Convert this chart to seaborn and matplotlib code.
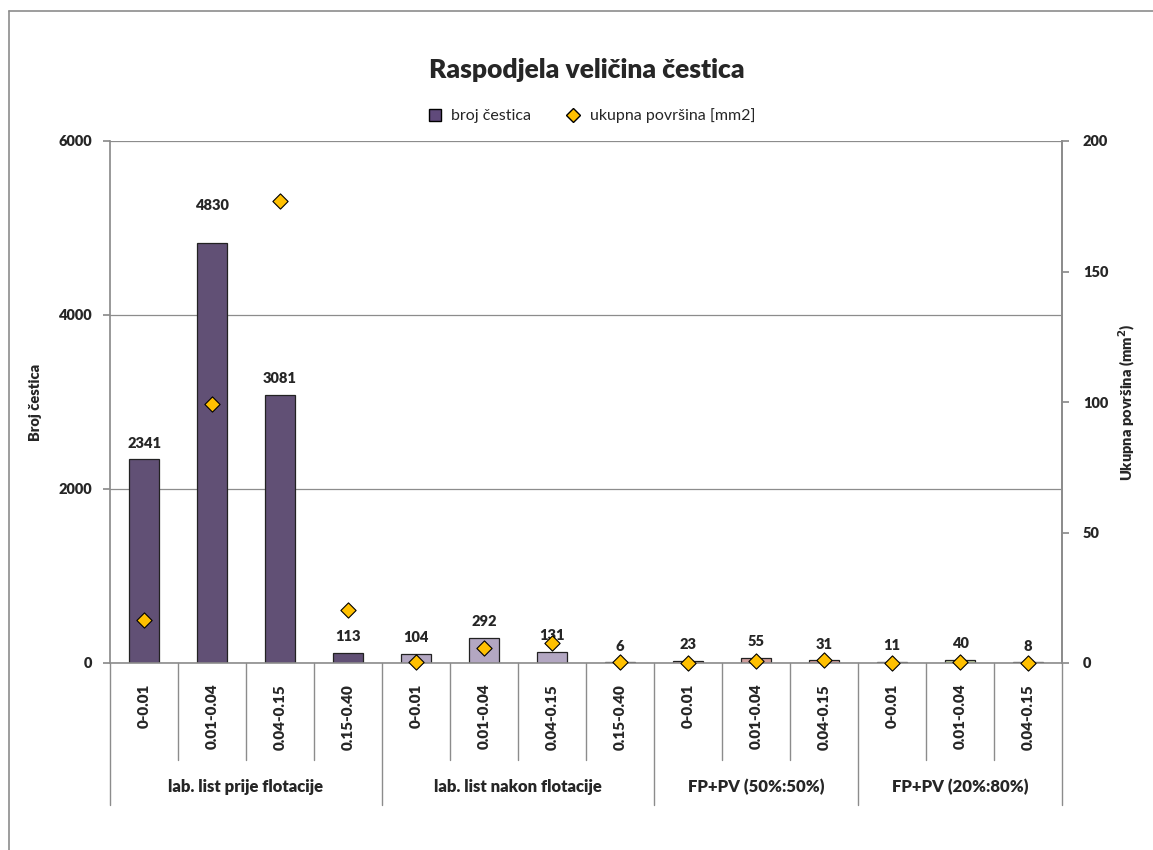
import matplotlib
matplotlib.use("Agg")
import matplotlib.pyplot as plt
from matplotlib.lines import Line2D
import seaborn as sns
import pandas as pd
import numpy as np

# ---- data ----
groups = ["lab. list prije flotacije", "lab. list nakon flotacije",
          "FP+PV (50%:50%)", "FP+PV (20%:80%)"]
size_labels = ["0-0.01", "0.01-0.04", "0.04-0.15", "0.15-0.40",
               "0-0.01", "0.01-0.04", "0.04-0.15", "0.15-0.40",
               "0-0.01", "0.01-0.04", "0.04-0.15",
               "0-0.01", "0.01-0.04", "0.04-0.15"]
group_of = [groups[0]] * 4 + [groups[1]] * 4 + [groups[2]] * 3 + [groups[3]] * 3
broj_cestica = [2341, 4830, 3081, 113, 104, 292, 131, 6, 23, 55, 31, 11, 40, 8]
ukupna_povrsina = [16.5, 99.2, 177.0, 20.3, 0.2, 5.7, 7.5, 0.5, 0.1, 0.9, 1.1, 0.1, 0.4, 0.1]
group_colors = ["#604A7B", "#B3A2C7", "#D99694", "#C3D69B"]

df = pd.DataFrame({
    "idx": list(range(len(size_labels))),
    "size": size_labels,
    "group": group_of,
    "count": broj_cestica,
    "area": ukupna_povrsina,
})

sns.set_theme(style="white")
plt.rcParams["font.family"] = ["Lato", "DejaVu Sans"]
BW = "heavy"

W, H = 1153, 850
fig = plt.figure(figsize=(W / 100, H / 100), dpi=100)
L, R, T, B = 110, 1062, 141, 663
ax = fig.add_axes([L / W, 1 - B / H, (R - L) / W, (B - T) / H])

sns.barplot(data=df, x="idx", y="count", hue="group", dodge=False,
            palette=dict(zip(groups, group_colors)), width=0.44,
            edgecolor="#222222", linewidth=0.9, legend=False, ax=ax, zorder=3)

ax.set_xlim(-0.5, len(size_labels) - 0.5)
ax.set_ylim(0, 6000)
ax.set_yticks([0, 2000, 4000, 6000])
ax.set_yticklabels(["0", "2000", "4000", "6000"], fontsize=10.5, fontweight=BW)
ax.yaxis.grid(True, color="#8c8c8c", linewidth=0.9, zorder=0)
ax.set_axisbelow(True)
for s in ["top", "bottom"]:
    ax.spines[s].set_visible(False)
ax.spines["left"].set_color("#8c8c8c")
ax.spines["right"].set_color("#8c8c8c")
ax.tick_params(axis="y", which="both", left=True, length=5, color="#8c8c8c", pad=8)
ax.set_ylabel("Broj čestica", fontsize=10.5, fontweight=BW, labelpad=12)
ax.set_xlabel("")
ax.set_xticks(range(len(size_labels)))
ax.set_xticklabels(size_labels, rotation=90, fontsize=11, fontweight=BW,
                   ha="center", va="top")
ax.tick_params(axis="x", length=0, pad=15)

# axis baseline
ax.axhline(0, color="#8c8c8c", linewidth=1.2, zorder=4, clip_on=False)

# value labels
label_offsets = [7, 22, 7, 7, 7, 7, 7, 7, 7, 7, 7, 7, 7, 7]
for i, v in enumerate(broj_cestica):
    ax.annotate(str(v), (i, v), xytext=(0, label_offsets[i]), textcoords="offset points",
                ha="center", va="bottom", fontsize=10.5, fontweight=BW)

# secondary axis
ax2 = ax.twinx()
sns.scatterplot(x=df["idx"], y=df["area"], marker="D", color="#FFC000",
                edgecolor="black", linewidth=0.8, s=60, ax=ax2, zorder=5,
                clip_on=False)
ax2.set_ylim(0, 200)
ax2.set_xlim(-0.5, len(size_labels) - 0.5)
ax2.set_yticks([0, 50, 100, 150, 200])
ax2.set_yticklabels(["0", "50", "100", "150", "200"], fontsize=10.5, fontweight=BW)
ax2.tick_params(axis="y", right=True, length=5, color="#8c8c8c", pad=10)
for s in ["top", "bottom", "left"]:
    ax2.spines[s].set_visible(False)
ax2.spines["right"].set_color("#8c8c8c")
ax2.set_ylabel("Ukupna površina (mm$^\\mathbf{2}$)", fontsize=10.5, fontweight=BW,
               labelpad=6)
ax2.grid(False)

# multi-level category axis
ph = B - T
short = 97 / ph
longl = 142 / ph
bounds = [-0.5, 3.5, 7.5, 10.5, 13.5]
for i in range(len(size_labels) + 1):
    xb = i - 0.5
    ln = longl if xb in bounds else short
    ax.plot([xb, xb], [0, -ln], transform=ax.get_xaxis_transform(),
            color="#8c8c8c", linewidth=1.0, clip_on=False)
for gi, g in enumerate(groups):
    cx = (bounds[gi] + bounds[gi + 1]) / 2
    ax.text(cx, -124 / ph, g, transform=ax.get_xaxis_transform(),
            ha="center", va="center", fontsize=12, fontweight=BW)

# title and legend
fig.text(587 / W, 1 - 70 / H, "Raspodjela veličina čestica", ha="center", va="center",
         fontsize=19, fontweight=BW)
handles = [
    Line2D([], [], marker="s", linestyle="none", markerfacecolor=group_colors[0],
           markeredgecolor="black", markersize=8, label="broj čestica"),
    Line2D([], [], marker="D", linestyle="none", markerfacecolor="#FFC000",
           markeredgecolor="black", markersize=7, label="ukupna površina [mm2]"),
]
fig.legend(handles=handles, loc="center", bbox_to_anchor=(587 / W, 1 - 116 / H),
           ncol=2, frameon=False, fontsize=11.5, handletextpad=0.05, columnspacing=1.6)

# outer chart border (left and top edges visible)
fig.add_artist(Line2D([9 / W, 9 / W], [0, 1 - 11 / H], transform=fig.transFigure,
                      color="#8c8c8c", linewidth=1.2))
fig.add_artist(Line2D([9 / W, 1], [1 - 11 / H, 1 - 11 / H], transform=fig.transFigure,
                      color="#8c8c8c", linewidth=1.2))

fig.savefig("out.png", dpi=100, facecolor="white")
